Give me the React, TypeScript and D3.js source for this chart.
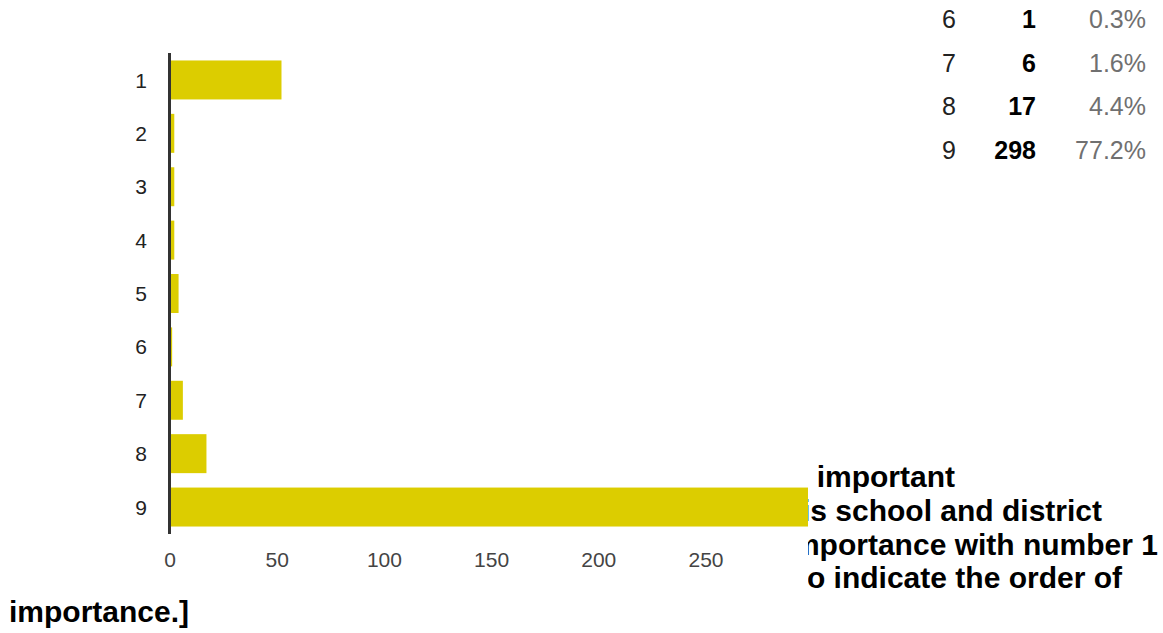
import React from "react";
import * as d3 from "d3";

const categories = ["1", "2", "3", "4", "5", "6", "7", "8", "9"];
const counts = [52, 2, 2, 2, 4, 1, 6, 17, 298];
const xTicks = [0, 50, 100, 150, 200, 250];

const tableLabels = ["6", "7", "8", "9"];
const tableCounts = [1, 6, 17, 298];
const tablePercents = ["0.3%", "1.6%", "4.4%", "77.2%"];

const questionFragments = [
  "important",
  "is school and district",
  "importance with number 1",
  "to indicate the order of",
];
const questionLastLine = "importance.]";

const FONT = "'Liberation Sans', Arial, Helvetica, sans-serif";
const BAR = "#dccd00";

export default function App() {
  const x = d3.scaleLinear().domain([0, 300]).range([170, 170 + 300 * 2.144]);
  const y = d3
    .scaleBand<string>()
    .domain(categories)
    .range([53, 534])
    .paddingInner(0.27)
    .paddingOuter(0.14);

  const lineEnds = [955, 1102, 1158, 1122];
  const baselines = [487, 521, 555, 588, 622];
  const rowY = d3.scaleLinear().domain([0, 3]).range([28, 159]);

  return (
    <svg
      width={1163}
      height={633}
      style={{ position: "absolute", left: 0, top: 0, background: "#fff" }}
      fontFamily={FONT}
    >
      <defs>
        <clipPath id="chartClip">
          <rect x={0} y={0} width={808} height={593} />
        </clipPath>
        <clipPath id="textClip">
          <rect x={808} y={0} width={400} height={633} />
        </clipPath>
      </defs>

      {/* question text, partly hidden behind the chart box */}
      <g fontWeight="bold" fontSize={30} fill="#000">
        <g clipPath="url(#textClip)">
          {questionFragments.map((t, i) => (
            <text key={i} x={lineEnds[i]} y={baselines[i]} textAnchor="end">
              {t}
            </text>
          ))}
        </g>
        <text x={9} y={baselines[4]}>
          {questionLastLine}
        </text>
      </g>

      {/* chart box */}
      <g clipPath="url(#chartClip)">
        {categories.map((c, i) => (
          <rect
            key={c}
            x={x(0)}
            y={y(c)!}
            width={x(counts[i]) - x(0)}
            height={y.bandwidth()}
            fill={BAR}
          />
        ))}
        <line x1={169.5} x2={169.5} y1={53} y2={534} stroke="#333" strokeWidth={3} />
        {categories.map((c) => (
          <text
            key={c}
            x={147}
            y={y(c)! + y.bandwidth() / 2 + 7.6}
            textAnchor="end"
            fontSize={21}
            fill="#222"
          >
            {c}
          </text>
        ))}
        {xTicks.map((t) => (
          <text key={t} x={x(t)} y={567} textAnchor="middle" fontSize={21} fill="#444">
            {t}
          </text>
        ))}
      </g>

      {/* summary table */}
      <g fontSize={25}>
        {tableLabels.map((l, i) => (
          <g key={l}>
            <text x={942} y={rowY(i)} fill="#222">
              {l}
            </text>
            <text x={1036} y={rowY(i)} textAnchor="end" fontWeight="bold" fill="#000">
              {tableCounts[i]}
            </text>
            <text x={1146} y={rowY(i)} textAnchor="end" fill="#707070">
              {tablePercents[i]}
            </text>
          </g>
        ))}
      </g>
    </svg>
  );
}
